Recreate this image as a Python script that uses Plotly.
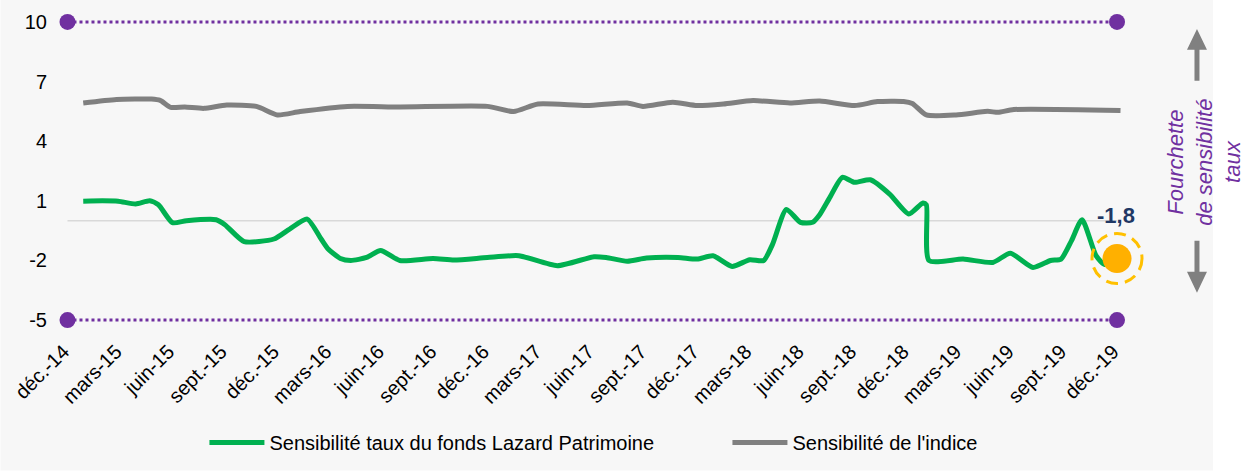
import plotly.graph_objects as go

# ---------------- data ----------------
tick_labels = ["déc.-14", "mars-15", "juin-15", "sept.-15", "déc.-15", "mars-16",
               "juin-16", "sept.-16", "déc.-16", "mars-17", "juin-17", "sept.-17",
               "déc.-17", "mars-18", "juin-18", "sept.-18", "déc.-18", "mars-19",
               "juin-19", "sept.-19", "déc.-19"]
tick_months = list(range(0, 61, 3))          # months since déc.-14
y_ticks = [-5, -2, 1, 4, 7, 10]
y_tick_labels = ["-5", "-2", "1", "4", "7", "10"]

band_levels = [10, -5]                        # fourchette de sensibilité
band_months = [0, 60]

fund_months = [0.9, 2.0, 2.9, 3.9, 4.7, 5.2, 6.0, 6.8, 8.5, 9.0, 10.1, 11.8, 12.7, 13.7,
               14.5, 14.9, 15.6, 16.2, 17.1, 17.9, 19.0, 20.9, 22.1, 24.0, 25.8, 28.0,
               30.1, 30.8, 32.0, 33.1, 34.9, 36.0, 36.9, 38.0, 39.0, 39.8, 40.3, 41.1,
               41.9, 42.6, 43.0, 43.6, 44.3, 45.0, 45.9, 47.0, 48.1, 48.9, 49.1, 49.25,
               51.2, 52.9, 53.9, 55.2, 56.2, 56.8, 57.4, 58.0, 58.8, 59.3, 60.0]
fund_values = [0.98, 1.0, 0.98, 0.84, 1.0, 0.8, -0.1, 0.0, 0.05, -0.2, -1.05, -0.92, -0.42, 0.08,
               -0.92, -1.42, -1.9, -2.0, -1.85, -1.5, -2.0, -1.9, -1.98, -1.85, -1.76, -2.26,
               -1.81, -1.85, -2.04, -1.88, -1.85, -1.93, -1.76, -2.3, -1.96, -2.0, -1.2, 0.57,
               -0.08, -0.08, 0.3, 1.2, 2.18, 1.93, 2.06, 1.34, 0.34, 0.89, 0.8, -2.0,
               -1.93, -2.1, -1.64, -2.35, -2.0, -1.93, -1.0, 0.05, -1.76, -2.2, -1.9]

index_months = [0.9, 2.8, 4.8, 5.3, 5.9, 6.7, 7.8, 9.1, 10.8, 12.0, 13.3, 16.0, 19.0, 24.0,
                25.5, 26.9, 29.7, 32.0, 32.9, 34.6, 36.0, 37.5, 39.2, 41.3, 43.0, 45.0,
                46.3, 47.8, 48.3, 49.1, 50.8, 52.6, 53.2, 54.1, 60.2]
index_values = [5.92, 6.1, 6.12, 6.05, 5.7, 5.72, 5.65, 5.82, 5.75, 5.32, 5.49, 5.75, 5.72, 5.75,
                5.49, 5.87, 5.79, 5.92, 5.75, 5.96, 5.79, 5.87, 6.04, 5.92, 6.02, 5.79,
                5.99, 6.0, 5.9, 5.32, 5.32, 5.5, 5.45, 5.59, 5.54]

last_label = "-1,8"
fund_name = "Sensibilité taux du fonds Lazard Patrimoine"
index_name = "Sensibilité de l'indice"
side_text = "Fourchette<br>de sensibilité<br>taux"

# ---------------- geometry ----------------
FIG_W, FIG_H = 1252, 471
X_RANGE = [-1, 62]
Y_RANGE = [-6, 11]
M_L, M_R, M_T, M_B = 49.5, 100, 2.1, 130.6
PLOT_W = FIG_W - M_L - M_R
PLOT_H = FIG_H - M_T - M_B


def px_x(px):
    return (px - M_L) / PLOT_W


def px_y(py):
    return ((FIG_H - M_B) - py) / PLOT_H


FONT = "Arial, Liberation Sans, sans-serif"
GREEN = "#00B050"
GREY = "#808080"
PURPLE = "#7030A0"
ORANGE = "#FFB000"

fig = go.Figure()

fig.add_trace(go.Scatter(x=fund_months, y=fund_values, mode="lines", name=fund_name,
                         line=dict(color=GREEN, width=5, shape="spline", smoothing=0.6)))
fig.add_trace(go.Scatter(x=index_months, y=index_values, mode="lines", name=index_name,
                         line=dict(color=GREY, width=5, shape="spline", smoothing=0.6)))

for lvl in band_levels:
    fig.add_trace(go.Scatter(x=band_months, y=[lvl] * len(band_months), mode="lines+markers",
                             showlegend=False, cliponaxis=False, hoverinfo="skip",
                             line=dict(color=PURPLE, width=3, dash="dot"),
                             marker=dict(color=PURPLE, size=16)))

fig.add_trace(go.Scatter(x=[fund_months[-1]], y=[fund_values[-1]], mode="markers",
                         showlegend=False, cliponaxis=False,
                         marker=dict(color=ORANGE, size=29)))

shapes = []
# background panel
shapes.append(dict(type="rect", xref="paper", yref="paper", layer="below",
                   x0=px_x(0), x1=px_x(1213), y0=px_y(FIG_H), y1=px_y(0),
                   fillcolor="#F7F7F7", line=dict(width=0)))
# zero line
shapes.append(dict(type="line", xref="x", yref="y", layer="below",
                   x0=band_months[0], x1=band_months[-1], y0=0, y1=0,
                   line=dict(color="#D9D9D9", width=1.5)))
# dashed ring around last point
shapes.append(dict(type="circle", xref="x", yref="y", xsizemode="pixel", ysizemode="pixel",
                   xanchor=fund_months[-1], yanchor=fund_values[-1],
                   x0=-25, x1=25, y0=-25, y1=25,
                   line=dict(color="#FFC000", width=3, dash="12px,7px")))


def poly(points):
    d = "M " + " L ".join(f"{px_x(a):.5f},{px_y(b):.5f}" for a, b in points) + " Z"
    return dict(type="path", xref="paper", yref="paper", path=d,
                fillcolor=GREY, line=dict(width=0))


cx = 1197
shapes.append(poly([(cx, 29), (cx + 10, 50), (cx + 2.5, 50), (cx + 2.5, 81),
                    (cx - 2.5, 81), (cx - 2.5, 50), (cx - 10, 50)]))
shapes.append(poly([(cx, 293), (cx + 10, 272), (cx + 2.5, 272), (cx + 2.5, 241),
                    (cx - 2.5, 241), (cx - 2.5, 272), (cx - 10, 272)]))

annotations = [
    dict(x=fund_months[-1], y=fund_values[-1], xref="x", yref="y", showarrow=False,
         text=f"<b>{last_label}</b>", yshift=43, xshift=-1,
         font=dict(family=FONT, size=22, color="#1F3864")),
    dict(x=px_x(1204), y=px_y(162), xref="paper", yref="paper", showarrow=False,
         text=f"<i>{side_text}</i>", textangle=-90, xanchor="center", yanchor="middle",
         font=dict(family=FONT, size=22, color=PURPLE)),
]

fig.update_layout(
    width=FIG_W, height=FIG_H,
    margin=dict(l=M_L, r=M_R, t=M_T, b=M_B, pad=0, autoexpand=False),
    paper_bgcolor="white", plot_bgcolor="rgba(0,0,0,0)",
    font=dict(family=FONT, size=20, color="#000"),
    shapes=shapes, annotations=annotations,
    showlegend=True, hovermode=False,
    legend=dict(orientation="h", x=px_x(204), xanchor="left", y=px_y(443), yanchor="middle",
                font=dict(family=FONT, size=20, color="#000"), itemwidth=55,
                entrywidth=453, entrywidthmode="pixels",
                bgcolor="rgba(0,0,0,0)", traceorder="normal"),
    xaxis=dict(range=X_RANGE, tickmode="array", tickvals=tick_months, ticktext=tick_labels,
               tickangle=-45, showgrid=False, zeroline=False, showline=False, ticks="",
               ticklabelstandoff=-5, ticklabelshift=-4,
               automargin=False, tickfont=dict(family=FONT, size=20, color="#000")),
    yaxis=dict(range=Y_RANGE, tickmode="array", tickvals=y_ticks, ticktext=y_tick_labels,
               showgrid=False, zeroline=False, showline=False, ticks="", automargin=False,
               ticklabelstandoff=2,
               tickfont=dict(family=FONT, size=20, color="#000")),
)

fig.write_html("out.html", config={"displayModeBar": False},
               post_script="document.body.style.margin='0';")
